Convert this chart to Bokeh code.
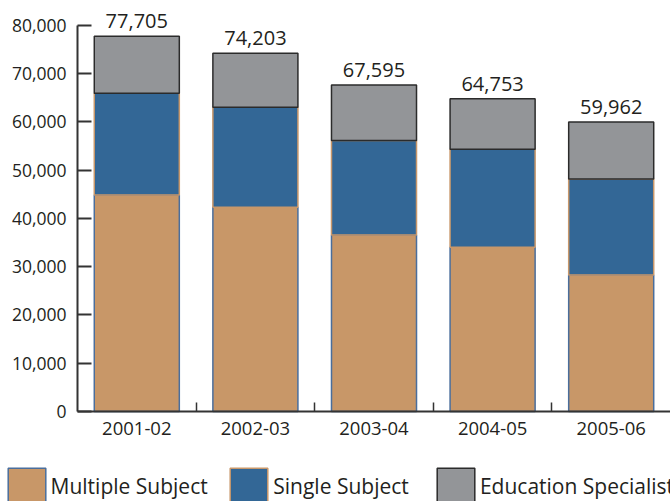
from bokeh.plotting import figure
from bokeh.models import (Range1d, FixedTicker, NumeralTickFormatter, Legend, LegendItem)
from bokeh.core.properties import value
from bokeh.embed import file_html
from bokeh.resources import INLINE

categories = ["2001-02", "2002-03", "2003-04", "2004-05", "2005-06"]
series_names = ["Multiple Subject", "Single Subject", "Education Specialist"]
multiple_subject = [44850, 42280, 36560, 33990, 28270]
single_subject = [21050, 20720, 19540, 20310, 19900]
education_specialist = [11805, 11203, 11495, 10453, 11792]
totals = [77705, 74203, 67595, 64753, 59962]
y_ticks = [0, 10000, 20000, 30000, 40000, 50000, 60000, 70000, 80000]

fill_colors = ["#C89768", "#336796", "#939598"]
line_colors = ["#4A6E9C", "#C8976A", "#2B2B2B"]
FONT = "Open Sans"
TEXT_COLOR = "#231F20"

n = len(categories)
xs = [i + 0.5 for i in range(n)]
data = dict(x=xs, ms=multiple_subject, ss=single_subject, es=education_specialist,
            total=totals, label=[f"{t:,}" for t in totals])

# frame covers the whole canvas; axes are pinned inside it
px_per_cat = (670 - 77) / n
p = figure(width=670, height=501, output_backend="svg", toolbar_location=None,
           x_range=Range1d(-77 / px_per_cat, n), y_range=Range1d(-18637, 85110),
           min_border_left=0, min_border_right=0, min_border_top=0, min_border_bottom=0)
p.outline_line_color = None
p.xgrid.visible = False
p.ygrid.visible = False
p.background_fill_color = "white"

renderers = p.vbar_stack(["ms", "ss", "es"], x="x", width=0.717, source=data,
                         fill_color=fill_colors, line_color=line_colors, line_width=1.5)

p.text(x="x", y="total", text="label", source=data, text_align="center",
       text_baseline="bottom", y_offset=-8, text_font=value(FONT),
       text_font_size="20px", text_color=TEXT_COLOR)

# y axis, pinned at x = 0
ya = p.yaxis[0]
ya.fixed_location = 0
ya.ticker = FixedTicker(ticks=y_ticks)
ya.formatter = NumeralTickFormatter(format="0,0")
ya.bounds = (0, 80000)
ya.major_tick_in = 14
ya.major_tick_out = 0
ya.minor_tick_in = 0
ya.minor_tick_out = 0
ya.major_tick_line_width = 2
ya.major_tick_line_color = "#333333"
ya.axis_line_width = 2
ya.axis_line_color = "#333333"
ya.major_label_standoff = 11
ya.major_label_text_font = FONT
ya.major_label_text_font_size = "17.5px"
ya.major_label_text_color = TEXT_COLOR

# x axis, pinned at y = 0
xa = p.xaxis[0]
xa.fixed_location = 0
xa.bounds = (0, n)
xa.ticker = FixedTicker(ticks=xs, minor_ticks=list(range(1, n)))
xa.major_label_overrides = {x: c for x, c in zip(xs, categories)}
xa.major_tick_in = 0
xa.major_tick_out = 0
xa.minor_tick_in = 9
xa.minor_tick_out = 0
xa.minor_tick_line_width = 1.5
xa.minor_tick_line_color = "#333333"
xa.axis_line_width = 2
xa.axis_line_color = "#333333"
xa.major_label_standoff = 10
xa.major_label_text_font = FONT
xa.major_label_text_font_size = "18.5px"
xa.major_label_text_color = TEXT_COLOR

legend_x = [2.55, 225.25, 431.95]
for name, r, lx in zip(series_names, renderers, legend_x):
    lg = Legend(items=[LegendItem(label=name, renderers=[r])], location=(lx, -8.75),
                orientation="horizontal", padding=0, margin=0, spacing=0,
                glyph_width=47, glyph_height=47, label_standoff=1,
                label_text_font=FONT, label_text_font_size="21px",
                label_text_color=TEXT_COLOR, border_line_alpha=0,
                background_fill_alpha=0)
    p.add_layout(lg, "center")

open("out.html", "w").write(file_html(p, INLINE))
